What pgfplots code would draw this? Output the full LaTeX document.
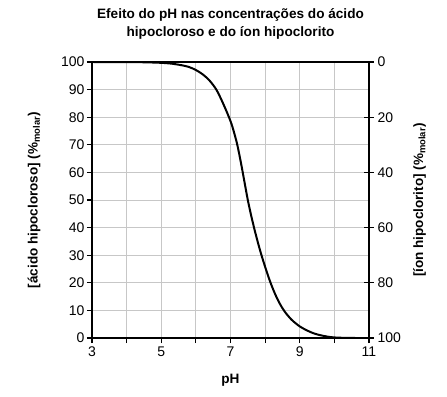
\documentclass[border=0pt]{standalone}
\usepackage{fontspec}
\setmainfont{Liberation Sans}
\usepackage{pgfplots}
\pgfplotsset{compat=1.18}
\begin{document}
\begin{tikzpicture}
\useasboundingbox (-92bp,-59bp) rectangle (355bp,338bp);
\begin{axis}[
  scale only axis, width=277bp, height=276bp,
  xmin=3, xmax=11, ymin=0, ymax=100,
  xtick={3,4,...,11}, xticklabels={3,,5,,7,,9,,11},
  ytick={0,10,...,100},
  xtick pos=bottom, ytick pos=left,
  grid=major, grid style={black!22, line width=0.9bp},
  tick align=outside, major tick length=5bp,
  tick style={black, line width=1.2bp},
  axis line style={line width=1.2bp},
  /pgf/number format/assume math mode=true,
  tick label style={font=\fontsize{14bp}{16bp}\selectfont},
  yticklabel style={xshift=1bp},
  title={Efeito do pH nas concentrações do ácido\\hipocloroso e do íon hipoclorito},
  title style={align=center, font=\bfseries\fontsize{13.6bp}{18bp}\selectfont, at={(axis description cs:0.5,1)}, anchor=south, inner sep=0pt, yshift=16bp},
  xlabel={pH},
  xlabel style={font=\bfseries\fontsize{13.6bp}{15bp}\selectfont, at={(axis description cs:0.5,-0.152)}, anchor=center},
  ylabel={[ácido hipocloroso] (\%\textsubscript{molar})},
  ylabel style={font=\bfseries\fontsize{13.5bp}{15bp}\selectfont, at={(axis description cs:-0.209,0.5)}, anchor=center},
]
\addplot[black, line width=2bp, smooth] coordinates {
(3.0,100) (4.0,99.97) (4.5,99.9) (5.0,99.7) (5.3,99.4) (5.6,98.8) (5.8,98.2)
(6.0,97.1) (6.2,95.5) (6.4,93.2) (6.6,89.8) (6.8,84.6) (7.0,78.6) (7.1,74.6)
(7.2,69.8) (7.3,63.6) (7.4,56.8) (7.5,50.0) (7.6,44.2) (7.7,39.0) (7.8,34.2)
(7.9,29.8) (8.0,25.8) (8.1,22.0) (8.2,18.6) (8.3,15.6) (8.4,13.0) (8.5,10.8)
(8.6,9.0) (8.7,7.5) (8.8,6.2) (9.0,4.2) (9.2,2.8) (9.4,1.7) (9.6,1.0) (9.8,0.5)
(10.0,0.2) (10.3,0.05) (10.6,0) (11,0)
};
\end{axis}
\begin{axis}[
  scale only axis, width=277bp, height=276bp,
  xmin=3, xmax=11, ymin=0, ymax=100, y dir=reverse,
  axis y line*=right, axis x line=none,
  ytick={0,20,...,100},
  tick align=center, major tick length=10bp,
  tick style={black, line width=1.2bp},
  axis line style={line width=1.2bp, -},
  /pgf/number format/assume math mode=true,
  tick label style={font=\fontsize{14bp}{16bp}\selectfont},
  ylabel={[íon hipoclorito] (\%\textsubscript{molar})},
  ylabel style={font=\bfseries\fontsize{13.5bp}{15bp}\selectfont, at={(axis description cs:1.183,0.5)}, anchor=center},
]
\end{axis}
\end{tikzpicture}
\end{document}
